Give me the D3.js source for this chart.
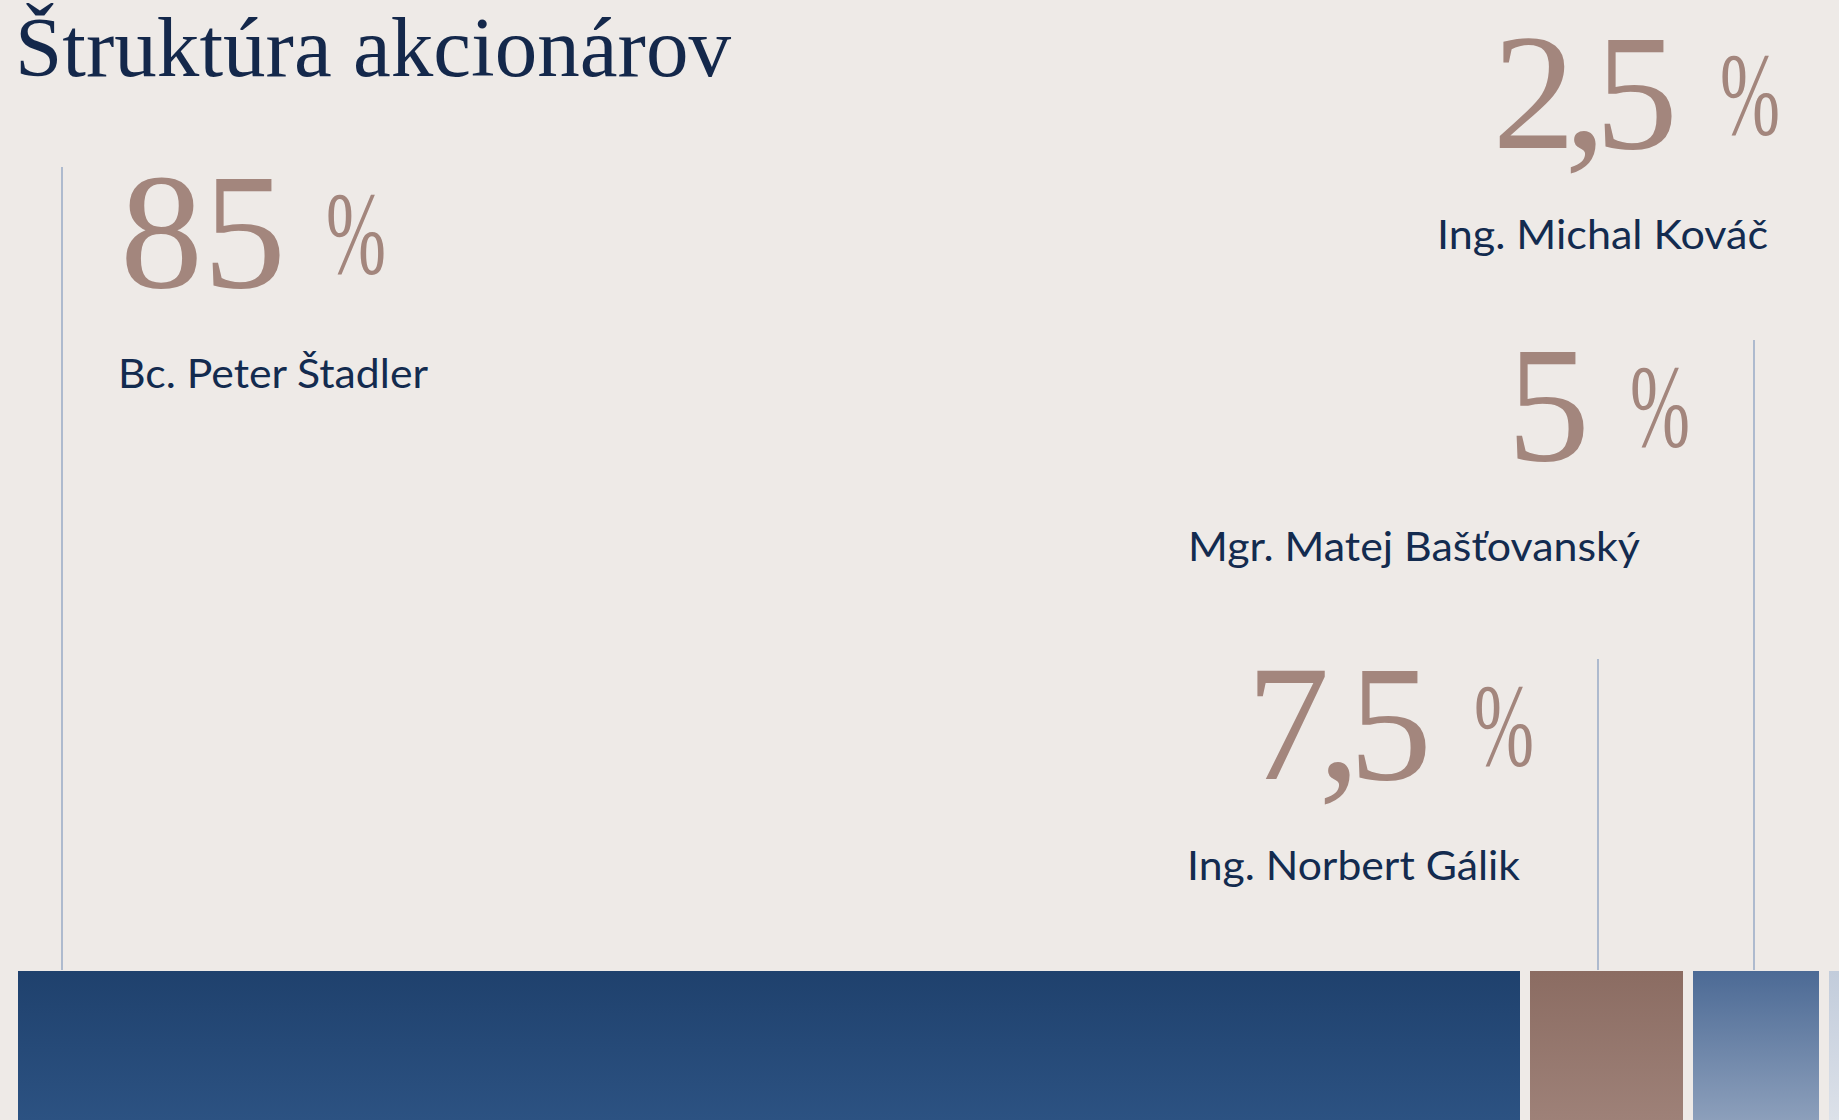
<!DOCTYPE html>
<html lang="sk">
<head>
<meta charset="utf-8">
<script src="https://cdn.jsdelivr.net/npm/d3@7"></script>
<style>
  html, body { margin: 0; padding: 0; background: #EEEAE7; overflow: hidden; }
  svg { display: block; }
</style>
</head>
<body>
<svg id="chart" width="1839" height="1120"></svg>
<script>
// ---- data ----
const title = "Štruktúra akcionárov";
const shareholders = ["Bc. Peter Štadler", "Ing. Norbert Gálik", "Mgr. Matej Bašťovanský", "Ing. Michal Kováč"];
const shares = [85, 7.5, 5, 2.5];
const percentSign = "%";

// ---- layout / style (not data) ----
const W = 1839, H = 1120;
const barTop = 971, barStart = 18, barGap = 10;
const labelBaseline = [287, 779, 460, 148];
const leaderInset = [44, 68, 61, 15];
const nameGap = [56, 78, 114, 76];
const nameWidth = [310, 333, 452, 331];
const barGradients = [
  ["#1F416D", "#2C5282"],
  ["#8B6C62", "#9E8178"],
  ["#4C6A95", "#8C9FBB"],
  ["#C2CCDB", "#DCE1E9"]
];
const colors = { bg: "#EEEAE7", title: "#14284B", number: "#A3867D", name: "#132B4F", leader: "#9DAEC8" };

const skLocale = d3.formatLocale({ decimal: ",", thousands: " ", grouping: [3], currency: ["", " €"] });
const fmt = skLocale.format("~");

const svg = d3.select("#chart");
svg.append("rect").attr("width", W).attr("height", H).attr("fill", colors.bg);

// width scale (piecewise linear, as drawn)
const widthScale = d3.scaleLinear().domain([0, 2.5, 5, 7.5, 85]).range([0, 40, 126, 153, 1502]);

const bars = shares.map((v, i) => ({ v, i, name: shareholders[i], w: widthScale(v) }));
let acc = barStart;
bars.forEach(b => { b.x = acc; acc += b.w + barGap; b.lineX = b.x + leaderInset[b.i]; });

const defs = svg.append("defs");
bars.forEach(b => {
  const g = defs.append("linearGradient").attr("id", "grad" + b.i)
    .attr("x1", 0).attr("y1", 0).attr("x2", 0).attr("y2", 1);
  g.append("stop").attr("offset", "0%").attr("stop-color", barGradients[b.i][0]);
  g.append("stop").attr("offset", "100%").attr("stop-color", barGradients[b.i][1]);
});

// bars
svg.append("g").selectAll("rect").data(bars).join("rect")
  .attr("x", d => d.x).attr("y", barTop)
  .attr("width", d => d.w).attr("height", H - barTop)
  .attr("fill", d => `url(#grad${d.i})`);

// title
svg.append("text")
  .attr("x", 15).attr("y", 76)
  .attr("font-family", "'Liberation Serif', 'DejaVu Serif', serif")
  .attr("font-size", 84)
  .attr("textLength", 716).attr("lengthAdjust", "spacingAndGlyphs")
  .attr("fill", colors.title)
  .text(title);

// labels
const lab = svg.append("g");
bars.forEach(b => {
  const base = labelBaseline[b.i];
  const leftSide = b.i === 0; // text to the right of the leader line
  // leader line
  lab.append("line")
    .attr("x1", b.lineX).attr("x2", b.lineX)
    .attr("y1", base - 120).attr("y2", barTop - 1)
    .attr("stroke", colors.leader).attr("stroke-width", 1.6);

  const label = fmt(b.v);
  const hasComma = label.includes(",");
  const ls = hasComma ? -11 : 0;
  const num = lab.append("text")
    .attr("y", base)
    .attr("font-family", "'Liberation Serif', 'DejaVu Serif', serif")
    .attr("font-size", 166)
    .attr("letter-spacing", ls)
    .attr("fill", colors.number)
    .text(label);

  const pct = lab.append("text")
    .attr("y", base - 14)
    .attr("font-family", "'Liberation Serif', 'DejaVu Serif', serif")
    .attr("font-size", 118)
    .attr("textLength", 60).attr("lengthAdjust", "spacingAndGlyphs")
    .attr("fill", colors.number)
    .text(percentSign);

  const name = lab.append("text")
    .attr("y", base + 101)
    .attr("font-family", "Lato, 'Noto Sans', sans-serif")
    .attr("font-size", 40)
    .attr("textLength", nameWidth[b.i]).attr("lengthAdjust", "spacingAndGlyphs")
    .attr("fill", colors.name)
    .text(b.name);

  if (leftSide) {
    const nx = b.lineX + 58;
    num.attr("x", nx);
    const nb = num.node().getBBox();
    pct.attr("x", nb.x + nb.width + 40);
    name.attr("x", b.lineX + nameGap[b.i]);
  } else {
    const pEnd = b.lineX - 64;
    const numEnd = pEnd - 60 - 40;
    pct.attr("x", pEnd - 60);
    num.attr("x", numEnd);
    const nb = num.node().getBBox();
    num.attr("x", numEnd - nb.width + (hasComma ? -8 : 0));
    name.attr("x", b.lineX - nameGap[b.i] - nameWidth[b.i]);
  }
});
</script>
</body>
</html>
